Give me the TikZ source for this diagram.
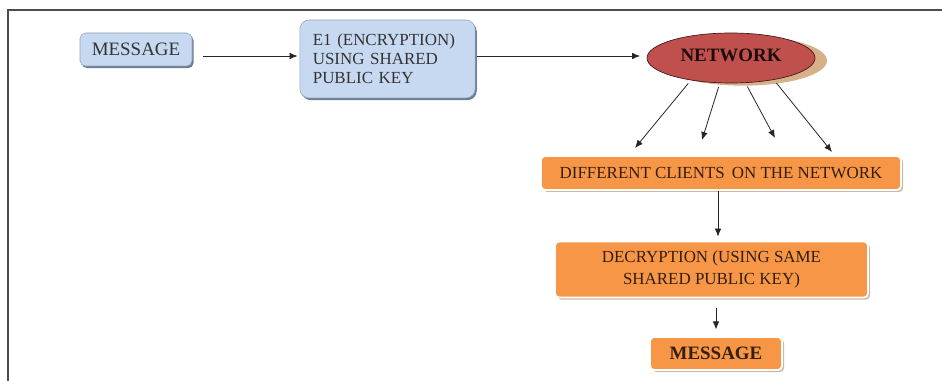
\documentclass[tikz,border=0pt]{standalone}
\usepackage{fontspec}
\setmainfont{Liberation Serif}
\usetikzlibrary{shapes.geometric,shadows,arrows.meta}

\definecolor{boxblue}{RGB}{198,217,240}
\definecolor{blueshade}{RGB}{105,125,148}
\definecolor{boxorange}{RGB}{247,150,70}
\definecolor{orangeshade}{RGB}{205,185,165}
\definecolor{netred}{RGB}{192,80,77}
\definecolor{nettan}{RGB}{214,176,136}
\definecolor{inkbrown}{RGB}{52,30,14}

\begin{document}
\begin{tikzpicture}[x=0.75pt,y=0.75pt,yscale=-1,xscale=1,
  font=\fontsize{12.7}{14.25}\selectfont,
  bluebox/.style={rectangle,rounded corners=4pt,fill=boxblue,draw=boxblue!75!black,line width=0.4pt,
    drop shadow={shadow xshift=1.2pt,shadow yshift=-1.6pt,fill=blueshade,opacity=1},text=black!80},
  orangebox/.style={rectangle,rounded corners=3pt,fill=boxorange,draw=white,line width=1.4pt,
    drop shadow={shadow xshift=1.5pt,shadow yshift=-1.5pt,fill=orangeshade,opacity=1},text=inkbrown},
  arr/.style={-{Latex[length=6pt,width=5pt]},line width=0.6pt,draw=black!85}]
\useasboundingbox (0,0) rectangle (942,381);
%Frame
\draw [line width=1.1pt,draw=black!70]  (942,10) -- (8,10) -- (8,381) ;
% Text Node
\node (msgA) at (136,49.5) [bluebox,minimum width=84pt,minimum height=24.75pt,font=\fontsize{14.2}{16}\selectfont] {MESSAGE};
% Text Node
\node (enc) at (387.5,59) [bluebox,rounded corners=7pt,minimum width=131.25pt,minimum height=58.5pt,
  text width=112pt,align=left,inner xsep=9.75pt] {E1 (ENCRYPTION)\\USING SHARED\\PUBLIC KEY};
% Ellipse
\node (net) at (731,58) [ellipse,fill=netred,draw=black!70!netred,line width=0.5pt,
  minimum width=126pt,minimum height=37.5pt,inner sep=0pt,text=black!85!netred,
  drop shadow={shadow xshift=9pt,shadow yshift=-2pt,fill=nettan,opacity=1}]
  {\raisebox{4pt}{\fontsize{14.2}{16}\selectfont\bfseries NETWORK}};
% Text Node
\node (clients) at (721,173) [orangebox,minimum width=270pt,minimum height=25.5pt] {DIFFERENT CLIENTS\, ON THE NETWORK};
% Text Node
\node (decr) at (711.5,269.5) [orangebox,minimum width=234.75pt,minimum height=42pt,align=center,
  font=\fontsize{12.7}{17}\selectfont] {DECRYPTION (USING SAME\\SHARED PUBLIC KEY)};
% Text Node
\node (msgB) at (716,353.5) [orangebox,minimum width=99pt,minimum height=24.75pt,font=\fontsize{14.2}{16}\selectfont\bfseries] {MESSAGE};
%Arrow ends
\coordinate (c1) at (635,148);
\coordinate (c2) at (702,140);
\coordinate (c3) at (775,138);
\coordinate (c4) at (832,152);
%Arrows
\draw [arr,shorten <=8pt,shorten >=1.5pt] (msgA.east |- 0,56) -- (enc.west |- 0,56);
\draw [arr,shorten <=1.5pt,shorten >=5pt] (enc.east |- 0,56) -- (net.west |- 0,56);
\draw [arr,shorten <=3pt] (net.209) -- (c1);
\draw [arr,shorten <=3pt] (net.246) -- (c2);
\draw [arr,shorten <=3pt] (net.300) -- (c3);
\draw [arr,shorten <=3pt] (net.333) -- (c4);
\draw [arr,shorten >=3pt] (clients.south -| 718,0) -- (decr.north -| 718,0);
\draw [arr,shorten <=7pt,shorten >=5pt] (decr.south -| msgB.north) -- (msgB.north);
\end{tikzpicture}
\end{document}
